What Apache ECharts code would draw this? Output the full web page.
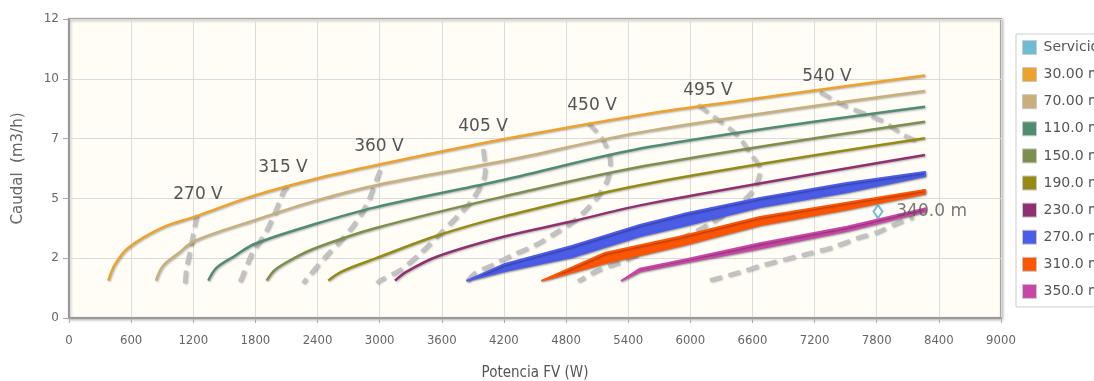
<!DOCTYPE html>
<html>
<head>
<meta charset="utf-8">
<script src="https://cdn.jsdelivr.net/npm/echarts@6/dist/echarts.min.js"></script>
<style>
html,body{margin:0;padding:0;background:#fff;}
#c{width:1094px;height:381px;}
</style>
</head>
<body>
<div id="c"></div>
<script>
// ---- data ----
const legendNames = ['Servicio','30.00 m','70.00 m','110.0 m','150.0 m','190.0 m','230.0 m','270.0 m','310.0 m','350.0 m'];
const colors = ['#4bacc6','#eda22b','#c7b07c','#4f8c70','#7d8f4f','#958b12','#8f3170','#4b5ce6','#ff5500','#c847a5'];

// pump curves: [power W, flow m3/h]
const q30  = [[380,1.5],[444,2.15],[573,2.82],[895,3.62],[1217,4.07],[1796,4.92],[2376,5.58],[2955,6.12],[4194,7.17],[5611,8.21],[6480,8.72],[8266,9.73]];
const q70  = [[840,1.5],[905,2.08],[1056,2.6],[1217,3.1],[1796,3.93],[2376,4.7],[2955,5.32],[4194,6.3],[5611,7.52],[8266,9.11]];
const q110 = [[1345,1.5],[1426,2.02],[1603,2.5],[1796,2.98],[2376,3.77],[2955,4.44],[4194,5.54],[5611,6.87],[8266,8.48]];
const q150 = [[1909,1.5],[1989,1.93],[2183,2.42],[2376,2.8],[2955,3.6],[4194,4.87],[5611,6.14],[8266,7.88]];
const q190 = [[2504,1.5],[2633,1.86],[2955,2.38],[3551,3.3],[4194,4.07],[5611,5.41],[8266,7.21]];
const q230 = [[3148,1.5],[3261,1.86],[3551,2.46],[4194,3.26],[4838,3.86],[5611,4.6],[8266,6.54]];
// thick (oscillating) curves: power, upper flow, lower flow
const b270x = [3844,4210,4857,5514,5929,6673,7513,8266];
const b270u = [1.5,2.17,2.89,3.73,4.17,4.82,5.42,5.86];
const b270l = [1.5,1.89,2.45,3.29,3.69,4.45,5.06,5.70];
const b310x = [4568,5176,5929,6673,7513,8266];
const b310u = [1.5,2.61,3.29,4.05,4.63,5.14];
const b310l = [1.5,2.21,2.93,3.73,4.36,5.00];
const b350x = [5337,5514,5929,6673,7513,8266];
const b350u = [1.5,1.98,2.33,3.00,3.66,4.40];
const b350l = [1.5,1.88,2.22,2.80,3.50,4.27];

// voltage iso-lines (dashed)
const voltNames = ['270 V','315 V','360 V','405 V','450 V','495 V','540 V'];
const v270 = [[1236,4.13],[1217,3.81],[1169,2.73],[1130,1.93],[1120,1.4]];
const v315 = [[2105,5.3],[2067,5.06],[1989,4.25],[1893,3.41],[1767,2.61],[1671,1.65],[1642,1.4]];
const v360 = [[3003,5.94],[2965,5.54],[2878,4.61],[2762,3.81],[2627,3.13],[2472,2.45],[2308,1.65],[2260,1.4]];
const v405 = [[3998,6.78],[4017,5.94],[4000,5.54],[3889,4.74],[3744,4.07],[3583,3.4],[3390,2.6],[3196,1.93],[3003,1.52],[2974,1.4]];
const v450 = [[5012,7.82],[5157,7.14],[5225,6.22],[5196,5.54],[5099,4.86],[4906,4.01],[4693,3.41],[4500,2.93],[4278,2.53],[4085,2.13],[3921,1.81],[3844,1.48]];
const v495 = [[6074,8.55],[6268,7.95],[6451,7.34],[6576,6.62],[6673,5.94],[6644,5.46],[6576,4.98],[6403,4.37],[6161,3.73],[5929,3.25],[5717,2.93],[5524,2.61],[5302,2.21],[5109,1.93],[4915,1.48]];
const v540 = [[7252,9.07],[7478,8.55],[7832,7.95],[8089,7.28],[8218,7.07]];
const vLow = [[6190,1.52],[6480,1.85],[6702,2.13],[7156,2.61],[7378,2.85],[7610,3.21],[7803,3.45],[7996,3.81],[8151,4.05]];

// operating point
const servicio = [[7812,4.27]];
const servicioLabel = '340.0 m';

// ---- chart ----
const FONT = '"DejaVu Sans", Verdana, sans-serif';
const lineShadow = {shadowColor:'rgba(0,0,0,0.3)', shadowBlur:2, shadowOffsetX:1, shadowOffsetY:1};
const voltLabelOffsets = [[1,0],[-4,2],[-1,-3],[0,-2],[4,3],[10,6],[7,5]];

function curve(name, color, data){
  return {type:'line', name, data, smooth:0.35, showSymbol:false, symbol:'none',
    lineStyle:Object.assign({width:2.5, color}, lineShadow), itemStyle:{color}, z:4, silent:true};
}
function band(name, color, xs, up, lo){
  return {type:'custom', name, coordinateSystem:'cartesian2d', data:[[xs[0], lo[0]]], encode:{x:0,y:1},
    itemStyle:{color}, z:4, silent:true,
    renderItem:function(params, api){
      const top = xs.map((x,i)=>api.coord([x, up[i]]));
      const bot = xs.map((x,i)=>api.coord([x, lo[i]])).reverse();
      return {type:'polygon', shape:{points: top.concat(bot)},
        style:{fill:color, stroke:color, lineWidth:2, lineJoin:'round',
          shadowColor:'rgba(0,0,0,0.35)', shadowBlur:2, shadowOffsetX:1, shadowOffsetY:1}};
    }};
}
function volt(data, idx){
  const label = idx == null ? null : voltNames[idx];
  return {type:'line', data: data.map((p,i)=> i===0 && label ? {value:p, label:{show:true, formatter:label, offset:voltLabelOffsets[idx]}} : p),
    smooth:0.3, symbol:'circle', symbolSize:0, showSymbol:true, silent:true, z:3,
    itemStyle:{color:'#c2c2c2'},
    lineStyle:{type:[12,7], width:4, color:'#c2c2c2', shadowColor:'rgba(0,0,0,0.3)', shadowBlur:2, shadowOffsetX:1, shadowOffsetY:1},
    label:{position:'top', distance:12, fontSize:17, color:'#555', fontFamily:FONT}};
}

const series = [
  {type:'scatter', name:'Servicio', data:servicio, symbol:'diamond', symbolSize:[9,13], z:6,
   itemStyle:{color:'#fffdf6', borderColor:colors[0], borderWidth:2},
   label:{show:true, position:'right', distance:13, formatter:servicioLabel, fontSize:17, color:'#555', fontFamily:FONT}},
  curve(legendNames[1], colors[1], q30),
  curve(legendNames[2], colors[2], q70),
  curve(legendNames[3], colors[3], q110),
  curve(legendNames[4], colors[4], q150),
  curve(legendNames[5], colors[5], q190),
  curve(legendNames[6], colors[6], q230),
  band(legendNames[7], colors[7], b270x, b270u, b270l),
  band(legendNames[8], colors[8], b310x, b310u, b310l),
  band(legendNames[9], colors[9], b350x, b350u, b350l),
  volt(v270, 0), volt(v315, 1), volt(v360, 2),
  volt(v405, 3), volt(v450, 4), volt(v495, 5),
  volt(v540, 6), volt(vLow, null)
];

const chart = echarts.init(document.getElementById('c'), null, {renderer:'canvas'});
chart.setOption({
  animation:false,
  backgroundColor:'#ffffff',
  grid:{left:69, right:93, top:19, bottom:63, containLabel:false, outerBoundsMode:'none',
        show:true, backgroundColor:'#fffdf6',
        borderColor:'#a3a3a3', borderWidth:2, shadowColor:'rgba(0,0,0,0.25)', shadowBlur:3, shadowOffsetX:1, shadowOffsetY:1},
  legend:{
    data: legendNames.map((n,i)=> i===0 ? {name:n, itemStyle:{color:colors[0]}} : n),
    orient:'vertical', left:1016, top:34, padding:[6,8,8,6], itemGap:12.1,
    itemWidth:14, itemHeight:14, icon:'rect',
    borderColor:'#cccccc', borderWidth:1, backgroundColor:'#ffffff',
    itemStyle:{borderColor:'#c8c8c8', borderWidth:1},
    textStyle:{fontSize:14, color:'#555', fontFamily:FONT, padding:[0,0,0,2]}
  },
  xAxis:{type:'value', min:0, max:9000, interval:600,
    name:'Potencia FV (W)', nameLocation:'middle', nameGap:48,
    nameTextStyle:{fontSize:15, color:'#555', fontFamily:'"DejaVu Sans Condensed", "DejaVu Sans", sans-serif'},
    axisLine:{show:true, lineStyle:{color:'#999', width:2}},
    axisTick:{show:true, length:5, lineStyle:{color:'#aaa'}},
    axisLabel:{margin:16, fontSize:13, color:'#666', fontFamily:'"Liberation Sans Narrow", "DejaVu Sans Condensed", sans-serif',
      formatter:v=>String(v)},
    splitLine:{show:true, lineStyle:{color:'#dcdcdc', width:1}}
  },
  yAxis:{type:'value', min:0, max:12, interval:2.4,
    name:'Caudal  (m3/h)', nameLocation:'middle', nameGap:43,
    nameTextStyle:{fontSize:15, color:'#666', fontFamily:FONT},
    axisLine:{show:true, lineStyle:{color:'#999', width:2}},
    axisTick:{show:true, length:6, lineStyle:{color:'#aaa'}},
    axisLabel:{margin:10, fontSize:12, color:'#666', fontFamily:FONT, formatter:v=>String(Math.round(v))},
    splitLine:{show:true, lineStyle:{color:'#dcdcdc', width:1}}
  },
  series
});
</script>
</body>
</html>
